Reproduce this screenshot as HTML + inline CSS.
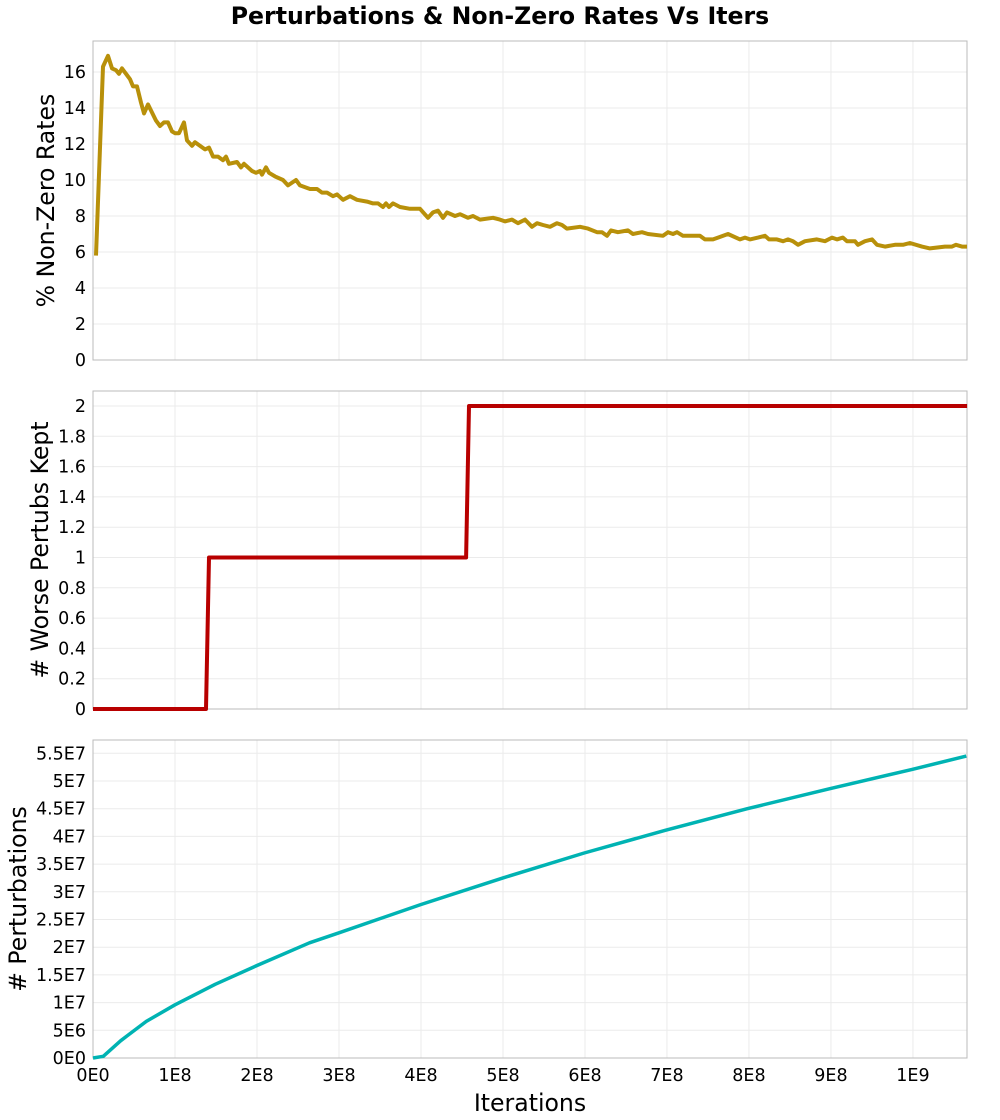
<!DOCTYPE html>
<html><head><meta charset="utf-8"><style>
html,body{margin:0;padding:0;background:#fff;}
svg{display:block;font-family:"DejaVu Sans","Liberation Sans",sans-serif;}
</style></head><body>
<svg id="chart" width="1000" height="1120" viewBox="0 0 1000 1120" xmlns="http://www.w3.org/2000/svg">
<text x="500" y="24" text-anchor="middle" font-size="23.6" font-weight="bold">Perturbations &amp; Non-Zero Rates Vs Iters</text>
<text x="530" y="1111" text-anchor="middle" font-size="23.6">Iterations</text>
</svg>
<script>
// shared x data (iterations in millions)
const xTickLabels = ["0E0","1E8","2E8","3E8","4E8","5E8","6E8","7E8","8E8","9E8","1E9"];
const xTickValues = [0,100,200,300,400,500,600,700,800,900,1000];

const nzIters = [3.7,12.2,18.3,23.2,28,31.7,35.4,45.1,48.8,53.7,58.5,62.2,67.1,76.8,81.7,86.6,91.5,96.3,100,104.9,111,114.6,120.7,124.4,136.6,141.5,146.3,152.4,158.5,162.2,165.9,175.6,180.5,184.1,193.9,198.8,203.7,206.1,211,214.6,222,231.7,237.8,247.6,252.4,264.6,273.2,279.3,285.4,292.7,297.6,304.9,313.4,322,334.1,341.5,347.6,353.7,357.3,361,365.9,374.4,386.6,392.7,398.8,408.5,414.6,420.7,426.8,431.7,441.5,447.6,457.3,463.4,472,487.8,496.3,502.4,511,518.3,526.8,535.4,541.5,548.8,557.3,565.9,572,578,593.9,603.7,614.6,620.7,626.8,631.7,640.2,652.4,658.5,669.5,676.8,695.1,701.2,707.3,712.2,719.5,740.2,746.3,756.1,762.2,774.4,789,795.1,801.2,811,819.5,824.4,834.1,841.5,847.6,853.7,859.8,868.3,882.9,892.7,901.2,907.3,914.6,919.5,929.3,932.9,941.5,950,956.1,965.9,978,987.8,996.3,1010.9,1020.7,1039,1047.6,1052.4,1059.8,1065.9];
const nzRates = [5.8,16.3,16.9,16.2,16.1,15.9,16.2,15.6,15.2,15.2,14.3,13.7,14.2,13.3,13.0,13.2,13.2,12.7,12.6,12.6,13.2,12.2,11.9,12.1,11.7,11.8,11.3,11.3,11.1,11.3,10.9,11.0,10.7,10.9,10.5,10.4,10.5,10.3,10.7,10.4,10.2,10.0,9.7,10.0,9.7,9.5,9.5,9.3,9.3,9.1,9.2,8.9,9.1,8.9,8.8,8.7,8.7,8.5,8.7,8.5,8.7,8.5,8.4,8.4,8.4,7.9,8.2,8.3,7.9,8.2,8.0,8.1,7.9,8.0,7.8,7.9,7.8,7.7,7.8,7.6,7.8,7.4,7.6,7.5,7.4,7.6,7.5,7.3,7.4,7.3,7.1,7.1,6.9,7.2,7.1,7.2,7.0,7.1,7.0,6.9,7.1,7.0,7.1,6.9,6.9,6.7,6.7,6.8,7.0,6.7,6.8,6.7,6.8,6.9,6.7,6.7,6.6,6.7,6.6,6.4,6.6,6.7,6.6,6.8,6.7,6.8,6.6,6.6,6.4,6.6,6.7,6.4,6.3,6.4,6.4,6.5,6.3,6.2,6.3,6.3,6.4,6.3,6.3];

const wkIters = [0,137.8,141.5,455,458.5,1066];
const wkCounts = [0,0,1,1,2,2];

const ptIters = [0,12.6,33.6,65,100,149,200,264,300,400,500,599,698,798,898,999,1065];
const ptCounts = [0,0.3e6,3.1e6,6.6e6,9.6e6,13.3e6,16.7e6,20.8e6,22.6e6,27.7e6,32.5e6,37.0e6,41.1e6,45.0e6,48.6e6,52.1e6,54.5e6];

const nzTickValues = [0,2,4,6,8,10,12,14,16];
const nzTickLabels = ["0","2","4","6","8","10","12","14","16"];
const wkTickValues = [0,0.2,0.4,0.6,0.8,1,1.2,1.4,1.6,1.8,2];
const wkTickLabels = ["0","0.2","0.4","0.6","0.8","1","1.2","1.4","1.6","1.8","2"];
const ptTickValues = [0,5e6,1e7,1.5e7,2e7,2.5e7,3e7,3.5e7,4e7,4.5e7,5e7,5.5e7];
const ptTickLabels = ["0E0","5E6","1E7","1.5E7","2E7","2.5E7","3E7","3.5E7","4E7","4.5E7","5E7","5.5E7"];

const NS="http://www.w3.org/2000/svg";
const svg=document.getElementById('chart');
const L=93,R=967,XMAX=1065.9;
function xs(v){return L+(R-L)*v/XMAX;}
function mk(tag,attrs,parent){const e=document.createElementNS(NS,tag);for(const k in attrs)e.setAttribute(k,attrs[k]);(parent||svg).appendChild(e);return e;}

function panel(name,top,bottom,ymax,tv,tl,xd,yd,color,width,title,titleX,showX){
  const g=mk('g',{});
  
  
  const ys=v=>bottom-(bottom-top)*v/ymax;
  xTickValues.forEach(v=>{const l=mk('line',{x1:xs(v),x2:xs(v),y1:top,y2:bottom,stroke:'#ebebeb','stroke-width':1},g);
    
    });
  tv.forEach((v,i)=>{const l=mk('line',{x1:L,x2:R,y1:ys(v),y2:ys(v),stroke:'#ebebeb','stroke-width':1},g);
    
    
    const t=mk('text',{x:L-7,y:ys(v)+6,'text-anchor':'end','font-size':17.5},g);
    
    
    t.textContent=tl[i];});
  const fr=mk('rect',{x:L,y:top,width:R-L,height:bottom-top,fill:'none',stroke:'#bbb','stroke-width':1},g);
  
  
  const pts=xd.map((x,i)=>xs(x).toFixed(1)+','+ys(yd[i]).toFixed(1)).join(' ');
  const pl=mk('polyline',{points:pts,fill:'none',stroke:color,'stroke-width':width,'stroke-linejoin':'round'},g);
  
  
  const cy=(top+bottom)/2;
  const yt=mk('text',{x:0,y:0,transform:'translate('+titleX+','+cy+') rotate(-90)','text-anchor':'middle','font-size':23.6},g);
  
  
  yt.textContent=title;
  if(showX){xTickValues.forEach((v,i)=>{const t=mk('text',{x:xs(v),y:bottom+23,'text-anchor':'middle','font-size':17.5},g);
    
    
    t.textContent=xTickLabels[i];});}
}
panel('non-zero-rate',41,360,17.72,nzTickValues,nzTickLabels,nzIters,nzRates,'#b8900a',4,'% Non-Zero Rates',54,false);
panel('worse-pertubs',391,709,2.099,wkTickValues,wkTickLabels,wkIters,wkCounts,'#b80000',4,'# Worse Pertubs Kept',48,false);
panel('perturbations',740,1058,5.74e7,ptTickValues,ptTickLabels,ptIters,ptCounts,'#00b3b3',3.5,'# Perturbations',26,true);
</script>
</body></html>
